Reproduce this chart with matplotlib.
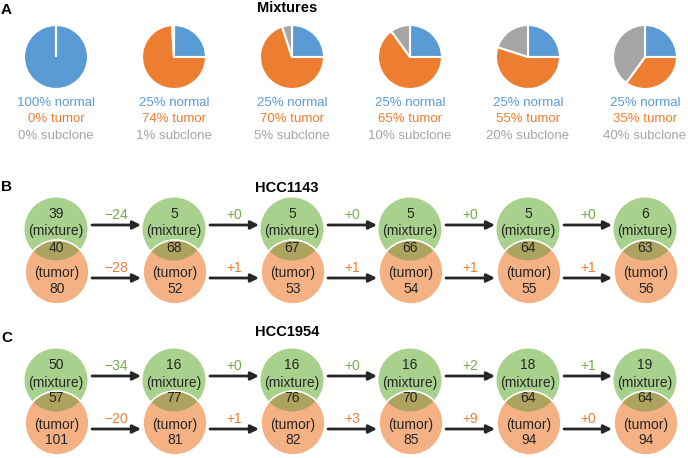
import numpy as np
import matplotlib.pyplot as plt
from matplotlib.patches import Circle

plt.rcParams['font.family'] = ['Liberation Sans', 'DejaVu Sans']

#-------------------------------- DATA -------------------------------------
pie_normal = [100, 25, 25, 25, 25, 25]
pie_tumor = [0, 74, 70, 65, 55, 35]
pie_subclone = [0, 1, 5, 10, 20, 40]

hcc1143_mix = [39, 5, 5, 5, 5, 6]
hcc1143_shared = [40, 68, 67, 66, 64, 63]
hcc1143_tumor = [80, 52, 53, 54, 55, 56]
hcc1143_mix_delta = ['\u221224', '+0', '+0', '+0', '+0', '+1']
hcc1143_tumor_delta = ['\u221228', '+1', '+1', '+1', '+1', '+1']

hcc1954_mix = [50, 16, 16, 16, 18, 19]
hcc1954_shared = [57, 77, 76, 70, 64, 64]
hcc1954_tumor = [101, 81, 82, 85, 94, 94]
hcc1954_mix_delta = ['\u221234', '+0', '+0', '+2', '+1']
hcc1954_tumor_delta = ['\u221220', '+1', '+3', '+9', '+0']

#-------------------------------- STYLE -------------------------------------
c_blue = '#5b9bd5'
c_orange = '#ed7d31'
c_gray = '#a5a5a5'
c_green_txt = '#70ad47'
c_green = '#a9d18e'
c_peach = '#f4b183'
c_olive = '#aba35e'
c_dark = '#262626'
fs = 10
fs_pie = 9.5

xs = [56, 174, 292, 410, 528, 645]

fig = plt.figure(figsize=(6.88, 4.58), dpi=100)
ax = fig.add_axes([0, 0, 1, 1])

#-------------------------------- PANEL A ---------------------------------
for i, x in enumerate(xs):
    ax.pie([pie_normal[i], pie_tumor[i], pie_subclone[i]], center=(x, 57), radius=32,
           colors=[c_blue, c_orange, c_gray], startangle=-90, counterclock=True,
           wedgeprops=dict(edgecolor='white', linewidth=1.5))
    ax.text(x, 103, '%d%% normal' % pie_normal[i], color=c_blue, fontsize=fs_pie, ha='center', va='center')
    ax.text(x, 119.5, '%d%% tumor' % pie_tumor[i], color=c_orange, fontsize=fs_pie, ha='center', va='center')
    ax.text(x, 136, '%d%% subclone' % pie_subclone[i], color=c_gray, fontsize=fs_pie, ha='center', va='center')


#-------------------------------- PANELS B, C -----------------------------
def row(y0, mix, shared, tumor, mix_delta, tumor_delta):
    yg = y0
    yo = y0 + 43
    for i, x in enumerate(xs):
        g = Circle((x, yg), 31.5, facecolor=c_green, edgecolor='none', zorder=1)
        o = Circle((x + 1, yo), 32, facecolor=c_peach, edgecolor='none', zorder=2)
        ov = Circle((x, yg), 31.5, facecolor=c_olive, edgecolor='none', zorder=3)
        oe = Circle((x + 1, yo), 32, fill=False, edgecolor='white', linewidth=1.2, zorder=4)
        for p in (g, o, ov, oe):
            ax.add_patch(p)
        ov.set_clip_path(o)
        ax.text(x, yg - 15, str(mix[i]), fontsize=fs, color=c_dark, ha='center', va='center', zorder=5)
        ax.text(x, yg + 2.5, '(mixture)', fontsize=fs, color=c_dark, ha='center', va='center', zorder=5)
        ax.text(x, yg + 18.5, str(shared[i]), fontsize=fs, color=c_dark, ha='center', va='center', zorder=5)
        ax.text(x + 1, yo + 1.5, '(tumor)', fontsize=fs, color=c_dark, ha='center', va='center', zorder=5)
        ax.text(x + 1, yo + 17, str(tumor[i]), fontsize=fs, color=c_dark, ha='center', va='center', zorder=5)
    for i in range(len(xs) - 1):
        x1 = xs[i] + 36
        x2 = xs[i + 1] - 33
        for ya, lab, col in ((yg - 4, mix_delta[i], c_green_txt), (yo + 6, tumor_delta[i], c_orange)):
            ax.annotate('', xy=(x2, ya), xytext=(x1, ya),
                        arrowprops=dict(arrowstyle='-|>', color=c_dark, lw=2,
                                        mutation_scale=12, shrinkA=0, shrinkB=0))
            ax.text((x1 + x2) / 2, ya - 10, lab, fontsize=fs, color=col, ha='center', va='center')


row(229, hcc1143_mix, hcc1143_shared, hcc1143_tumor, hcc1143_mix_delta, hcc1143_tumor_delta)
row(380, hcc1954_mix, hcc1954_shared, hcc1954_tumor, hcc1954_mix_delta, hcc1954_tumor_delta)

#-------------------------------- TITLES -----------------------------------
ax.text(287, 8, 'Mixtures', fontsize=10.5, fontweight='bold', ha='center', va='center')
ax.text(287, 188, 'HCC1143', fontsize=10.5, fontweight='bold', ha='center', va='center')
ax.text(287, 332, 'HCC1954', fontsize=10.5, fontweight='bold', ha='center', va='center')
ax.text(1, 10, 'A', fontsize=11, fontweight='bold', ha='left', va='center')
ax.text(1, 187, 'B', fontsize=11, fontweight='bold', ha='left', va='center')
ax.text(1, 338, 'C', fontsize=11, fontweight='bold', ha='left', va='center')

ax.set_xlim(0, 688)
ax.set_ylim(458, 0)
ax.set_aspect('auto')
ax.axis('off')
plt.savefig('out.png', dpi=100)
